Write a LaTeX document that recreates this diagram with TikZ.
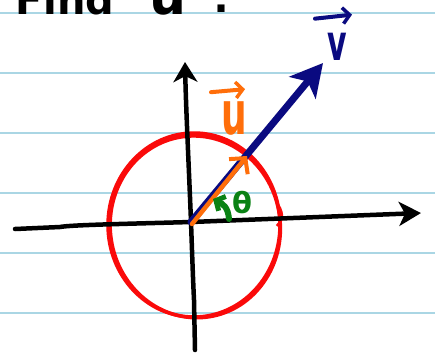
\documentclass[tikz,border=0pt]{standalone}
\usepackage{fontspec}
\setmainfont{DejaVu Sans}
\usetikzlibrary{arrows.meta}
\definecolor{paperline}{RGB}{170,214,228}
\definecolor{vnavy}{RGB}{10,10,128}
\definecolor{uorange}{RGB}{255,110,10}
\definecolor{tgreen}{RGB}{10,130,20}
\definecolor{cred}{RGB}{250,10,10}
\tikzset{
  ruling/.style={paperline, line width=2pt},
  axis/.style={black, line width=4.5pt, line cap=round, line join=round},
  vvec/.style={vnavy, line width=7pt, line cap=round, -{Stealth[length=32pt,width=34pt,inset=8pt]}},
  uvec/.style={uorange, line width=4.5pt, line cap=round, -{Straight Barb[length=11pt,width=24pt,line width=4pt]}},
  ring/.style={cred, line width=3.5pt},
  lab/.style={inner sep=0pt, outer sep=0pt},
  hookarrow/.style={line width=4pt, line cap=round, -{Straight Barb[length=7pt,width=16pt,line width=3.5pt]}}
}
\begin{document}
\begin{tikzpicture}[x=1pt,y=-1pt]
\useasboundingbox (0,0) rectangle (435,354);
\clip (0,0) rectangle (435,354);
\fill[white] (0,0) rectangle (435,354);
% ruled paper
\foreach \yy in {13,73,133,193,253,313} \draw[ruling] (0,\yy) -- (435,\yy);
% heading
\node[lab, anchor=base west, font=\bfseries\fontsize{40}{40}\selectfont] (find) at (16,14) {Find};
\node[lab, anchor=base west, font=\bfseries\fontsize{52}{52}\selectfont] (uhead) at (149,14) {u};
\node[lab, anchor=base, font=\bfseries\fontsize{40}{40}\selectfont] (colon) at (221,12) {:};
% coordinates
\coordinate (O) at (191,222);
\coordinate (xl) at (15,229);
\coordinate (xr) at (421,213);
\coordinate (yb) at (195,350);
\coordinate (yt) at (185,62);
\coordinate (vt) at (323,63);
\coordinate (ut) at (247,156);
% circle
\draw[ring] (194,225) ellipse[x radius=86, y radius=92];
\draw[ring, rotate around={8:(194,225)}] (195,227) ellipse[x radius=85, y radius=91];
\draw[ring, line width=3pt] (278,205) .. controls (284,215) and (282,222) .. (277,226);
% axes
\draw[axis, -{Stealth[length=22pt,width=24pt,inset=6pt]}] (xl) -- (60,227) .. controls (70,225) and (120,224) .. (O) -- (xr);
\draw[axis, -{Stealth[length=20pt,width=24pt,inset=6pt]}] (yb) -- (194,300) .. controls (193,280) and (192,250) .. (O) .. controls (189,170) and (186,110) .. (yt);
% vectors
\draw[vvec] (O) -- (vt);
\draw[uvec] ([xshift=1pt,yshift=-2pt]O) -- (ut);
% labels
\node[lab, uorange, anchor=base, xscale=0.6, font=\bfseries\fontsize{60}{60}\selectfont] (ulab) at (234,134) {u};
\draw[hookarrow, uorange] ([shift={(-23,-9)}]ulab.north) -- ([shift={(11,-12)}]ulab.north);
\node[lab, vnavy, anchor=base, xscale=0.6, font=\bfseries\fontsize{50}{50}\selectfont] (vlab) at (337,60) {v};
\draw[hookarrow, vnavy] ([shift={(-22,-14)}]vlab.north) -- ([shift={(15,-18)}]vlab.north);
% theta
\node[lab, tgreen, anchor=base west, font=\bfseries\fontsize{29}{29}\selectfont] (th) at (232,213) {θ};
\draw[tgreen, line width=6pt, line cap=round, -{Straight Barb[length=7pt,width=16pt,line width=5pt]}] (229,219) .. controls (228,207) and (223,204) .. (213,199);
\end{tikzpicture}
\end{document}
